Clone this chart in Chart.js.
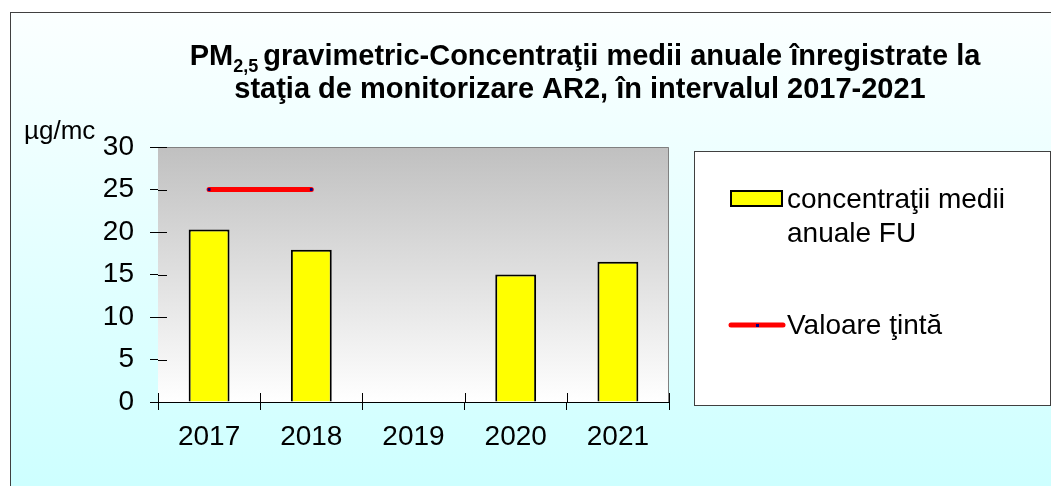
<!DOCTYPE html>
<html>
<head>
<meta charset="utf-8">
<script src="https://cdn.jsdelivr.net/npm/chart.js@4"></script>
<style>
    html, body { margin: 0; padding: 0; background: #ffffff; }
    #frame {
        position: absolute; left: 10px; top: 12px; width: 1060px; height: 490px;
        border-top: 1px solid #404040; border-left: 1px solid #404040;
        background: linear-gradient(to bottom, #fbffff 0%, #e6ffff 45%, #ccffff 100%);
    }
    #chart { position: absolute; left: 0; top: 0; }
</style>
</head>
<body>
<div id="frame"></div>
<canvas id="chart" width="1051" height="486"></canvas>
<script>
const categories = ["2017", "2018", "2019", "2020", "2021"];
const concentrations = [20.3, 17.9, null, 15.0, 16.5];
const targetValue = [25, 25, null, null, null];
const yTicks = [0, 5, 10, 15, 20, 25, 30];
const seriesLabels = ["concentraţii medii anuale FU", "Valoare ţintă"];
const titleLines = ["gravimetric-Concentraţii medii anuale înregistrate la", "staţia de monitorizare AR2, în intervalul 2017-2021"];
const unitLabel = "µg/mc";

const FONT = "'Liberation Sans', Arial, sans-serif";

// gray gradient behind the bars + gray border on top/right, ticks across the axes
const plotBackground = {
    id: "plotBackground",
    beforeDatasetsDraw(chart) {
        const { ctx, chartArea: a } = chart;
        const g = ctx.createLinearGradient(0, a.top, 0, a.bottom);
        g.addColorStop(0, "#c0c0c0");
        g.addColorStop(1, "#ffffff");
        ctx.save();
        ctx.fillStyle = g;
        ctx.fillRect(a.left, a.top, a.right - a.left, a.bottom - a.top);
        ctx.strokeStyle = "#808080";
        ctx.lineWidth = 1;
        ctx.beginPath();
        ctx.moveTo(a.left, a.top + 0.5);
        ctx.lineTo(a.right - 0.5, a.top + 0.5);
        ctx.lineTo(a.right - 0.5, a.bottom);
        ctx.stroke();

        // inner half of the cross ticks
        ctx.strokeStyle = "#000";
        ctx.beginPath();
        const y = chart.scales.y;
        yTicks.forEach((v) => {
            const py = Math.round(y.getPixelForValue(v)) + 0.5;
            ctx.moveTo(a.left, py);
            ctx.lineTo(a.left + 9, py);
        });
        const x = chart.scales.x;
        for (let i = 0; i <= categories.length; i++) {
            const px = Math.round(x.getPixelForValue(i - 0.5)) + 0.5;
            ctx.moveTo(px, a.bottom);
            ctx.lineTo(px, a.bottom - 9);
        }
        ctx.stroke();
        ctx.restore();
    }
};

const titleAndUnit = {
    id: "titleAndUnit",
    afterDraw(chart) {
        const ctx = chart.ctx;
        ctx.save();
        ctx.fillStyle = "#000";
        ctx.textBaseline = "alphabetic";
        const big = "bold 29px " + FONT;
        const small = "bold 18px " + FONT;
        ctx.font = big;
        const wPM = ctx.measureText("PM").width;
        const wRest = ctx.measureText(titleLines[0]).width;
        ctx.font = small;
        const wSub = ctx.measureText("2,5").width;
        const cx = 585;
        let x = cx - (wPM + wSub + 5 + wRest) / 2;
        ctx.font = big;
        ctx.textAlign = "left";
        ctx.fillText("PM", x, 65);
        x += wPM;
        ctx.font = small;
        ctx.fillText("2,5", x, 72);
        x += wSub + 5;
        ctx.font = big;
        ctx.fillText(titleLines[0], x, 65);
        ctx.textAlign = "center";
        ctx.fillText(titleLines[1], 580, 98);

        ctx.font = "26px " + FONT;
        ctx.textAlign = "left";
        ctx.fillText(unitLabel, 24, 139);
        ctx.restore();
    }
};

// legend in a white box on the right, built from the datasets
const boxLegend = {
    id: "boxLegend",
    afterDraw(chart) {
        const ctx = chart.ctx;
        const ds = chart.data.datasets;
        ctx.save();
        ctx.fillStyle = "#ffffff";
        ctx.fillRect(694, 151, 356, 254);
        ctx.strokeStyle = "#404040";
        ctx.lineWidth = 1;
        ctx.strokeRect(694.5, 151.5, 356, 254);

        ctx.font = "28px " + FONT;
        ctx.textBaseline = "middle";
        ctx.textAlign = "left";

        // bar entry
        ctx.fillStyle = ds[0].backgroundColor;
        ctx.fillRect(731, 191, 51, 15);
        ctx.strokeStyle = ds[0].borderColor;
        ctx.lineWidth = 2;
        ctx.strokeRect(731, 191, 51, 15);
        ctx.fillStyle = "#000";
        const words = ds[0].label.split(" ");
        ctx.fillText(words.slice(0, 2).join(" "), 787, 200);
        ctx.fillText(words.slice(2).join(" "), 787, 234);

        // line entry
        ctx.strokeStyle = ds[1].borderColor;
        ctx.lineWidth = 5;
        ctx.lineCap = "round";
        ctx.beginPath();
        ctx.moveTo(731, 325);
        ctx.lineTo(783, 325);
        ctx.stroke();
        ctx.fillStyle = ds[1].pointBackgroundColor;
        ctx.fillRect(756, 324, 3, 3);
        ctx.fillStyle = "#000";
        ctx.fillText(ds[1].label, 787, 326);
        ctx.restore();
    }
};

new Chart(document.getElementById("chart"), {
    type: "bar",
    data: {
        labels: categories,
        datasets: [
            {
                label: seriesLabels[0],
                data: concentrations,
                backgroundColor: "#ffff00",
                borderColor: "#000000",
                borderWidth: 2,
                barPercentage: 0.4,
                categoryPercentage: 1,
                order: 1,
            },
            {
                type: "line",
                label: seriesLabels[1],
                data: targetValue,
                borderColor: "#ff0000",
                borderWidth: 5,
                borderCapStyle: "round",
                pointStyle: "rect",
                pointRadius: 2,
                pointBackgroundColor: "#000080",
                pointBorderWidth: 0,
                spanGaps: false,
                order: 0,
            },
        ],
    },
    plugins: [plotBackground, titleAndUnit, boxLegend],
    options: {
        responsive: false,
        animation: false,
        layout: { padding: { top: 147, right: 382, left: 0, bottom: 0 } },
        plugins: {
            legend: { display: false },
            title: { display: false },
            tooltip: { enabled: false },
        },
        scales: {
            x: {
                afterFit: (scale) => { scale.height = 84; },
                grid: { offset: true, drawOnChartArea: false, tickLength: 8, color: "#000" },
                border: { color: "#000", width: 1 },
                ticks: { color: "#000", padding: 10, font: { family: FONT, size: 28 } },
            },
            y: {
                min: 0,
                max: 30,
                afterFit: (scale) => { scale.width = 158; },
                afterBuildTicks: (scale) => { scale.ticks = yTicks.map((v) => ({ value: v })); },
                grid: { drawOnChartArea: false, tickLength: 8, color: "#000" },
                border: { color: "#000", width: 1 },
                ticks: { color: "#000", padding: 16, font: { family: FONT, size: 28 } },
            },
        },
    },
});
</script>
</body>
</html>
